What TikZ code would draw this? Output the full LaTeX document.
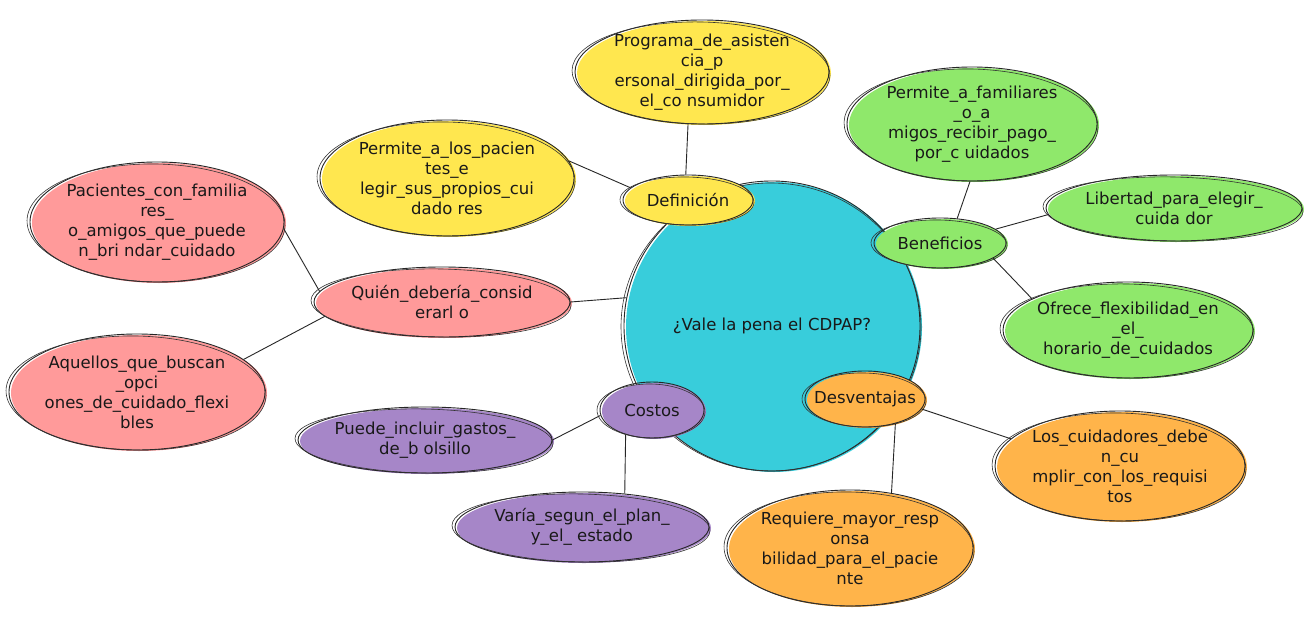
\documentclass[tikz,border=0pt]{standalone}
\usepackage{fontspec}
\setmainfont{DejaVu Sans}
\usetikzlibrary{shapes.geometric,calc}
\definecolor{cyanc}{HTML}{38CDDB}
\definecolor{yel}{HTML}{FFE74F}
\definecolor{grn}{HTML}{8FE86B}
\definecolor{pnk}{HTML}{FF9A9A}
\definecolor{pur}{HTML}{A686C8}
\definecolor{org}{HTML}{FFB44A}
\tikzset{
 bub/.style={ellipse, draw=black!85, line width=0.9pt, inner sep=0pt},
 txt/.style={align=center, font=\fontsize{16.5}{20}\selectfont, text=black!90},
 sk/.style={draw=black!80, line width=0.6pt},
 link/.style={draw=black!85, line width=0.9pt},
}
\newcommand\bub[7]{%
 \fill[#6] (#2+2,#3+1) ellipse [x radius=#4, y radius=#5];
 \node[bub, minimum width={2*#4pt}, minimum height={2*#5pt}, label={[txt]center:{#7}}] (#1) at (#2,#3) {};
 \draw[sk] (#2-1,#3+1) ellipse [x radius=#4+2, y radius=#5-1, rotate=-1.2];
}
\begin{document}
\begin{tikzpicture}[x=1pt,y=-1pt]
\useasboundingbox[fill=white] (0,0) rectangle (1312,621);
% centre
\bub{c}{772}{326}{148}{145}{cyanc}{¿Vale la pena el CDPAP?}
% definicion
\bub{def}{688}{200}{65}{25}{yel}{Definición}
\bub{prog}{702}{72}{127}{52}{yel}{Programa\_de\_asisten\\cia\_p\\ersonal\_dirigida\_por\_\\el\_co nsumidor}
\bub{perm}{447}{178}{127}{58}{yel}{Permite\_a\_los\_pacien\\tes\_e\\legir\_sus\_propios\_cui\\dado res}
% beneficios
\bub{ben}{940}{243}{66}{25}{grn}{Beneficios}
\bub{fam}{972}{124}{125}{57}{grn}{Permite\_a\_familiares\\\_o\_a\\migos\_recibir\_pago\_\\por\_c uidados}
\bub{lib}{1174}{208}{128}{33}{grn}{Libertad\_para\_elegir\_\\cuida dor}
\bub{ofr}{1128}{330}{125}{48}{grn}{Ofrece\_flexibilidad\_en\\\_el\_\\horario\_de\_cuidados}
% quien
\bub{qui}{442}{302}{128}{35}{pnk}{Quién\_debería\_consid\\erarl o}
\bub{pac}{157}{222}{127}{60}{pnk}{Pacientes\_con\_familia\\res\_\\o\_amigos\_que\_puede\\n\_bri ndar\_cuidado}
\bub{aqu}{137}{392}{128}{58}{pnk}{Aquellos\_que\_buscan\\\_opci\\ones\_de\_cuidado\_flexi\\bles}
% costos
\bub{cos}{652}{410}{52}{28}{pur}{Costos}
\bub{pue}{425}{440}{127}{33}{pur}{Puede\_incluir\_gastos\_\\de\_b olsillo}
\bub{var}{582}{527}{127}{35}{pur}{Varía\_segun\_el\_plan\_\\y\_el\_ estado}
% desventajas
\bub{des}{865}{399}{60}{28}{org}{Desventajas}
\bub{los}{1120}{466}{125}{55}{org}{Los\_cuidadores\_debe\\n\_cu\\mplir\_con\_los\_requisi\\tos}
\bub{req}{850}{548}{123}{58}{org}{Requiere\_mayor\_resp\\onsa\\bilidad\_para\_el\_pacie\\nte}
% connectors
\draw[link] (def.95) -- (prog.-105);
\draw[link] (def.168) -- (perm.8);
\draw[link] (qui.east) -- (c.169);
\draw[link] (qui.175) -- (pac.-3);
\draw[link] (qui.187) -- (aqu.17);
\draw[link] (ben.55) -- (fam.-92);
\draw[link] (ben.14) -- (lib.183);
\draw[link] (ben.-16) -- (ofr.162);
\draw[link] (cos.186) -- (pue.0);
\draw[link] (cos.-137) -- (var.38);
\draw[link] (des.-10) -- (los.166);
\draw[link] (des.-39) -- (req.53);
\end{tikzpicture}
\end{document}
